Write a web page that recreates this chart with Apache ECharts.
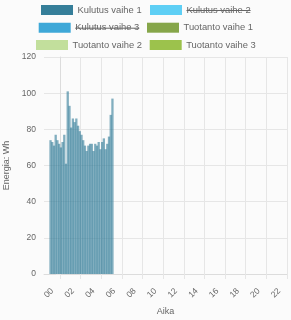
<!DOCTYPE html>
<html><head><meta charset="utf-8">
<script src="https://cdn.jsdelivr.net/npm/echarts@6/dist/echarts.min.js"></script>
<style>html,body{margin:0;padding:0;background:#fbfbfb}#c{width:291px;height:320px}</style>
</head><body><div id="c"></div>
<script>
// ---- data ----
const seriesNames = ['Kulutus vaihe 1', 'Kulutus vaihe 2', 'Kulutus vaihe 3', 'Tuotanto vaihe 1', 'Tuotanto vaihe 2', 'Tuotanto vaihe 3'];
const seriesHidden = [false, true, true, false, false, false];
const seriesColors = ['#357e99', '#5ecff5', '#3ea8d8', '#86a64a', '#c2df9c', '#9cc24c'];
const times = ['23:00','23:10','23:20','23:30','23:40','23:50','00:00','00:10','00:20','00:30','00:40','00:50',
  '01:00','01:10','01:20','01:30','01:40','01:50','02:00','02:10','02:20','02:30','02:40','02:50',
  '03:00','03:10','03:20','03:30','03:40','03:50','04:00','04:10','04:20','04:30','04:40','04:50','05:00'];
const kulutus1 = [74, 73, 71, 77, 74, 72, 70, 73, 77, 61, 101, 93, 81, 86, 84, 86, 82, 79, 77, 74, 71, 68, 71, 72, 72, 68, 72, 71, 73, 69, 73, 75, 69, 72, 76, 88, 97];
const xTickHours = [0, 2, 4, 6, 8, 10, 12, 14, 16, 18, 20, 22];
const xTickLabels = ['00', '02', '04', '06', '08', '10', '12', '14', '16', '18', '20', '22'];
const yTicks = [0, 20, 40, 60, 80, 100, 120];
const yAxisTitle = 'Energia: Wh';
const xAxisTitle = 'Aika';

// ---- build ----
function toHour(t) {
  const [h, m] = t.split(':').map(Number);
  let v = h + (m + 5) / 60;
  if (h >= 12) v -= 24;
  return v;
}
const barData = times.map((t, i) => [toHour(t), kulutus1[i]]);

const gridCol = '#e6e6e6';
const textCol = '#666';
const fontFam = '"Liberation Sans", Arial, sans-serif';

const legendPos = [[41, 10], [150, 10], [38.7, 27.7], [147, 27.7], [36, 45], [149.7, 45]];
const graphics = [];
seriesNames.forEach((n, i) => {
  const [x, y] = legendPos[i];
  graphics.push({ type: 'rect', left: x, top: y - 5, shape: { width: 32, height: 10 },
    style: { fill: seriesColors[i] } });
  graphics.push({ type: 'text', x: x + 36.5, y: y, style: { text: n, fill: textCol,
    font: '9.4px ' + fontFam, textVerticalAlign: 'middle', textAlign: 'left' } });
});
const chart = echarts.init(document.getElementById('c'), null, { renderer: 'canvas' });
const ctx = document.createElement('canvas').getContext('2d');
ctx.font = '9.4px ' + fontFam;
seriesNames.forEach((n, i) => {
  if (!seriesHidden[i]) return;
  const [x, y] = legendPos[i];
  const w = ctx.measureText(n).width;
  graphics.push({ type: 'line', shape: { x1: x + 36.5, y1: y + 0.5, x2: x + 36.5 + w, y2: y + 0.5 },
    style: { stroke: textCol, lineWidth: 1 } });
});

chart.setOption({
  backgroundColor: '#fbfbfb',
  animation: false,
  graphic: graphics,
  grid: { left: 44, right: 4, top: 57, bottom: 46, containLabel: false, outerBoundsMode: 'none' },
  xAxis: {
    type: 'value', min: -1.55, max: 22,
    name: xAxisTitle, nameLocation: 'middle', nameGap: 32,
    nameTextStyle: { color: textCol, fontSize: 9, fontFamily: fontFam },
    axisLine: { show: true, lineStyle: { color: '#dcdcdc' } },
    axisTick: { show: true, length: 5, lineStyle: { color: gridCol }, customValues: xTickHours },
    axisLabel: { customValues: xTickHours, rotate: 45, margin: 8, color: textCol, fontSize: 8.5, fontFamily: fontFam,
      padding: [0, 11, 6, 0],
      formatter: v => xTickLabels[xTickHours.indexOf(Math.round(v))] },
    splitLine: { show: true, lineStyle: { color: gridCol } }
  },
  yAxis: {
    type: 'value', min: yTicks[0], max: yTicks[yTicks.length - 1], interval: 20,
    name: yAxisTitle, nameLocation: 'middle', nameGap: 31, nameRotate: 90,
    nameTextStyle: { color: textCol, fontSize: 9, fontFamily: fontFam },
    axisLine: { show: true, lineStyle: { color: '#dcdcdc' } },
    axisTick: { show: true, length: 4, lineStyle: { color: gridCol } },
    axisLabel: { color: textCol, fontSize: 8.5, fontFamily: fontFam, margin: 8 },
    splitLine: { show: true, lineStyle: { color: gridCol } }
  },
  series: [{
    name: seriesNames[0], type: 'bar',
    data: barData,
    barWidth: 2.3,
    itemStyle: { color: 'rgba(53,126,153,0.62)' },
    silent: true
  }]
});
</script></body></html>
